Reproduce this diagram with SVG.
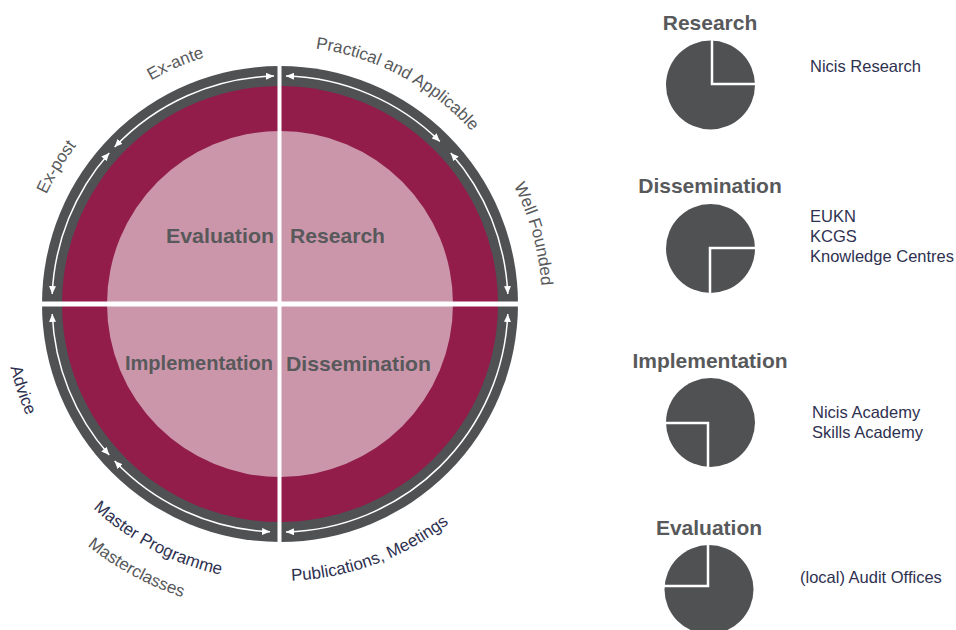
<svg xmlns="http://www.w3.org/2000/svg" width="956" height="630" viewBox="0 0 956 630">
<style>
.ctr{font-family:"Liberation Sans",Arial,sans-serif;font-weight:bold;font-size:20.5px;fill:#58595b}
.ttl{font-family:"Liberation Sans",Arial,sans-serif;font-weight:bold;font-size:21px;fill:#58595b}
.desc{font-family:"Liberation Sans",Arial,sans-serif;font-size:16.5px;fill:#2e3150}
.arcg{font-family:"Liberation Sans",Arial,sans-serif;font-size:17px;fill:#58595b}
.arcn{font-family:"Liberation Sans",Arial,sans-serif;font-size:17px;fill:#2e3150}
.arr{fill:none;stroke:#ffffff;stroke-width:1.5;marker-start:url(#ah);marker-end:url(#ah)}
.pie{fill:#505153}
.cut{stroke:#ffffff;stroke-width:2.5;fill:none}
</style>
<defs>
<marker id="ah" markerUnits="userSpaceOnUse" markerWidth="8" markerHeight="7" viewBox="0 0 8 7" refX="8" refY="3.5" orient="auto-start-reverse">
<path d="M0,0 L8,3.5 L0,7 z" fill="#ffffff"/>
</marker>
<path id="pExante" d="M23.66,274.79 A258,258 0 0 1 433.46,96.60"/>
<path id="pExpost" d="M53.26,427.11 A258,258 0 0 1 286.75,46.09"/>
<path id="pPract" d="M143.28,85.20 A258,258 0 0 1 537.84,295.00"/>
<path id="pWell" d="M346.04,50.46 A262,262 0 0 1 466.55,487.96"/>
<path id="pAdvice" d="M72.54,120.45 A277,277 0 0 0 224.77,575.44"/>
<path id="pMaster" d="M3.29,316.57 A277,277 0 0 0 429.24,537.36"/>
<path id="pClasses" d="M-28.91,312.09 A309,309 0 0 0 441.46,567.47"/>
<path id="pPubl" d="M101.95,516.19 A277,277 0 0 0 552.79,352.10"/>
</defs>
<rect width="956" height="630" fill="#ffffff"/>

<g id="cycle">
<circle cx="280" cy="304" r="238" fill="#505153"/>
<circle cx="280" cy="304" r="218" fill="#921d4a"/>
<circle cx="280" cy="304" r="173" fill="#cb96aa"/>
<rect x="277.5" y="60" width="4" height="490" fill="#ffffff"/>
<rect x="38" y="301.5" width="486" height="5" fill="#ffffff"/>
</g>

<g id="evaluation"><text class="ctr" x="274" y="243" text-anchor="end" textLength="108" lengthAdjust="spacingAndGlyphs">Evaluation</text></g>
<g id="research"><text class="ctr" x="290" y="243" textLength="95" lengthAdjust="spacingAndGlyphs">Research</text></g>
<g id="implementation"><text class="ctr" x="273" y="370" text-anchor="end" textLength="148" lengthAdjust="spacingAndGlyphs">Implementation</text></g>
<g id="dissemination"><text class="ctr" x="286" y="371" textLength="145" lengthAdjust="spacingAndGlyphs">Dissemination</text></g>

<g id="connectors">
<path class="arr" d="M274.03,76.08 A228,228 0 0 0 114.62,147.06"/>
<path class="arr" d="M109.24,152.92 A228,228 0 0 0 52.22,294.05"/>
<path class="arr" d="M285.97,76.08 A228,228 0 0 1 439.81,141.38"/>
<path class="arr" d="M450.76,152.92 A228,228 0 0 1 507.78,294.05"/>
<path class="arr" d="M52.22,313.95 A228,228 0 0 0 109.24,455.08"/>
<path class="arr" d="M114.62,460.94 A228,228 0 0 0 270.05,531.78"/>
<path class="arr" d="M285.97,531.92 A228,228 0 0 0 507.78,313.95"/>
</g>

<g id="arc-labels">
<text class="arcg"><textPath href="#pExante" startOffset="50%" text-anchor="middle">Ex-ante</textPath></text>
<text class="arcg"><textPath href="#pExpost" startOffset="50%" text-anchor="middle">Ex-post</textPath></text>
<text class="arcg"><textPath href="#pPract" startOffset="50%" text-anchor="middle">Practical and Applicable</textPath></text>
<text class="arcg"><textPath href="#pWell" startOffset="50%" text-anchor="middle">Well Founded</textPath></text>
<text class="arcn"><textPath href="#pAdvice" startOffset="50%" text-anchor="middle">Advice</textPath></text>
<text class="arcn"><textPath href="#pMaster" startOffset="50%" text-anchor="middle">Master Programme</textPath></text>
<text class="arcg"><textPath href="#pClasses" startOffset="50%" text-anchor="middle">Masterclasses</textPath></text>
<text class="arcn"><textPath href="#pPubl" startOffset="50%" text-anchor="middle">Publications, Meetings</textPath></text>
</g>

<g id="legend-research">
<text class="ttl" x="710" y="30" text-anchor="middle">Research</text>
<circle class="pie" cx="710.5" cy="85" r="44.5"/>
<path class="cut" d="M712,40 V84 H756"/>
<text class="desc" x="810" y="72">Nicis Research</text>
</g>

<g id="legend-dissemination">
<text class="ttl" x="710" y="193" text-anchor="middle">Dissemination</text>
<circle class="pie" cx="710.5" cy="248.5" r="44.5"/>
<path class="cut" d="M710,294 V248 H756"/>
<text class="desc" x="810" y="222">EUKN</text>
<text class="desc" x="810" y="242">KCGS</text>
<text class="desc" x="810" y="262">Knowledge Centres</text>
</g>

<g id="legend-implementation">
<text class="ttl" x="710" y="368" text-anchor="middle">Implementation</text>
<circle class="pie" cx="710.5" cy="422.5" r="44.5"/>
<path class="cut" d="M665,423 H708 V468"/>
<text class="desc" x="812" y="418">Nicis Academy</text>
<text class="desc" x="812" y="438">Skills Academy</text>
</g>

<g id="legend-evaluation">
<text class="ttl" x="709" y="535" text-anchor="middle">Evaluation</text>
<circle class="pie" cx="709" cy="589.5" r="44.5"/>
<path class="cut" d="M664,586 H708 V544"/>
<text class="desc" x="800" y="583">(local) Audit Offices</text>
</g>
</svg>
